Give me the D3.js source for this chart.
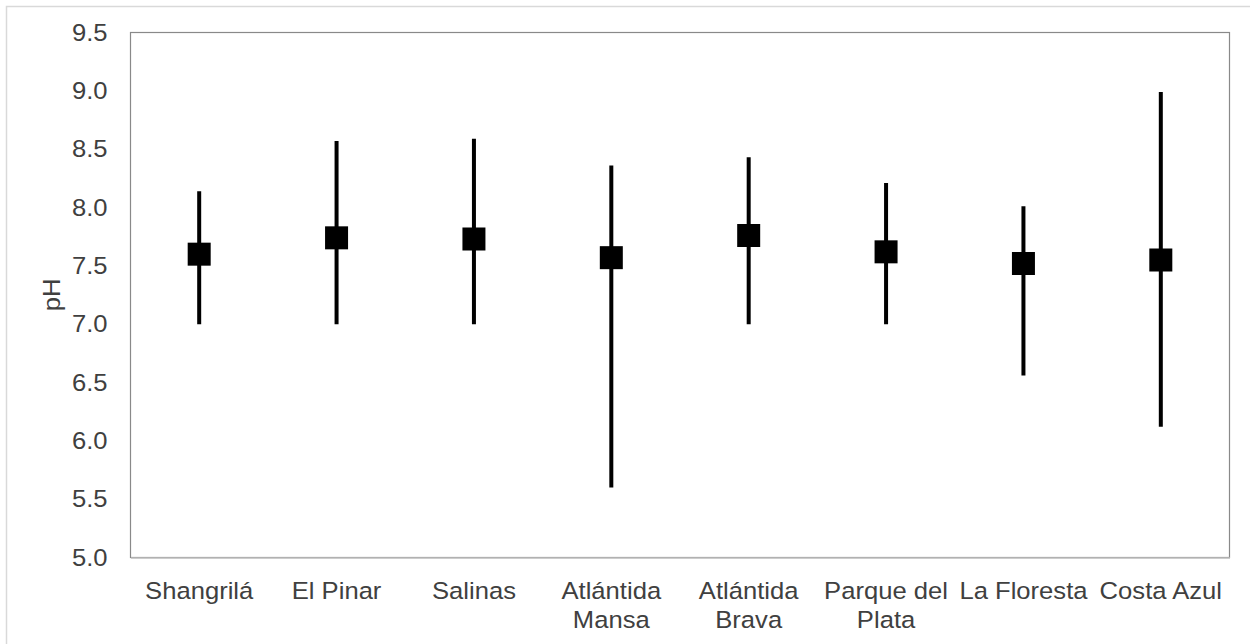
<!DOCTYPE html>
<html>
<head>
<meta charset="utf-8">
<script src="https://cdn.jsdelivr.net/npm/d3@7"></script>
<style>
  html, body { margin: 0; padding: 0; background: #fff; }
  svg { display: block; font-family: "Liberation Sans", Arial, sans-serif; }
</style>
</head>
<body>
<svg id="chart" width="1250" height="644"></svg>
<script>
// pH per beach: mean with min–max range
const categories = ["Shangrilá", "El Pinar", "Salinas", "Atlántida Mansa", "Atlántida Brava", "Parque del Plata", "La Floresta", "Costa Azul"];
const meanPH = [7.60, 7.74, 7.73, 7.57, 7.76, 7.62, 7.52, 7.55];
const minPH  = [7.00, 7.00, 7.00, 5.60, 7.00, 7.00, 6.56, 6.12];
const maxPH  = [8.14, 8.57, 8.59, 8.36, 8.43, 8.21, 8.01, 8.99];
const yTicks = [5.0, 5.5, 6.0, 6.5, 7.0, 7.5, 8.0, 8.5, 9.0, 9.5];
const yTitle = "pH";

const svg = d3.select("#chart");
const plot = { left: 130.5, top: 32.5, right: 1229.5, bottom: 557.5 };
const textColor = "#404040";
const fontSize = 23.5;
const stretch = 1.09;

// chart area outline
svg.append("rect")
  .attr("x", 6.5).attr("y", 6.5)
  .attr("width", 1300).attr("height", 700)
  .attr("fill", "#fff").attr("stroke", "#d9d9d9").attr("stroke-width", 1.5);

const x = d3.scaleBand().domain(categories).range([plot.left, plot.right]).padding(0);
const y = d3.scaleLinear().domain([5, 9.5]).range([plot.bottom, plot.top]);

// plot area frame
svg.append("rect")
  .attr("x", plot.left).attr("y", plot.top)
  .attr("width", plot.right - plot.left).attr("height", plot.bottom - plot.top)
  .attr("fill", "none").attr("stroke", "#898989").attr("stroke-width", 1.2);

// y axis labels
const yAxis = svg.append("g")
  .attr("transform", `translate(${plot.left},0)`)
  .call(d3.axisLeft(y).tickValues(yTicks).tickFormat(d3.format(".1f")).tickSize(0).tickPadding(23));
yAxis.select(".domain").remove();
yAxis.selectAll("text")
  .attr("fill", textColor)
  .style("font-size", fontSize + "px")
  .style("font-family", "'Liberation Sans', Arial, sans-serif")
  .attr("transform", function () {
    const tx = +d3.select(this).attr("x");
    d3.select(this).attr("x", 0);
    return `translate(${tx},0) scale(${stretch},1)`;
  });

// x axis with wrapped category labels
const xAxis = svg.append("g")
  .attr("transform", `translate(0,${plot.bottom})`)
  .call(d3.axisBottom(x).tickSize(0).tickFormat(""));
xAxis.select(".domain").attr("stroke", "#bfbfbf").attr("stroke-width", 1.5);

const lineGap = 30;
xAxis.selectAll(".tick").each(function (d) {
  const g = d3.select(this);
  const words = d.split(" ");
  const maxW = x.bandwidth() - 2;
  const t = g.append("text")
    .attr("fill", textColor)
    .attr("text-anchor", "middle")
    .style("font-size", fontSize + "px")
    .attr("transform", `translate(0,41) scale(${stretch},1)`);
  let lines = [];
  let cur = [];
  const probe = t.append("tspan");
  words.forEach(w => {
    const trial = cur.concat([w]).join(" ");
    probe.text(trial);
    if (cur.length && probe.node().getComputedTextLength() * stretch > maxW) {
      lines.push(cur.join(" "));
      cur = [w];
    } else {
      cur.push(w);
    }
  });
  lines.push(cur.join(" "));
  probe.remove();
  lines.forEach((ln, i) => {
    t.append("tspan").attr("x", 0).attr("y", i * lineGap).text(ln);
  });
});

// y axis title
svg.append("text")
  .attr("fill", textColor)
  .attr("text-anchor", "middle")
  .style("font-size", fontSize + "px")
  .attr("transform", `translate(60,${(plot.top + plot.bottom) / 2}) rotate(-90) scale(${stretch},1)`)
  .text(yTitle);

// range whiskers
const rows = categories.map((c, i) => ({ c, mean: meanPH[i], lo: minPH[i], hi: maxPH[i] }));
const cx = d => x(d.c) + x.bandwidth() / 2;

svg.append("g").selectAll("line")
  .data(rows).join("line")
  .attr("x1", cx).attr("x2", cx)
  .attr("y1", d => y(d.lo)).attr("y2", d => y(d.hi))
  .attr("stroke", "#000").attr("stroke-width", 4);

// mean markers
const m = 23;
svg.append("g").selectAll("rect")
  .data(rows).join("rect")
  .attr("x", d => cx(d) - m / 2)
  .attr("y", d => y(d.mean) - m / 2)
  .attr("width", m).attr("height", m)
  .attr("fill", "#000");
</script>
</body>
</html>
